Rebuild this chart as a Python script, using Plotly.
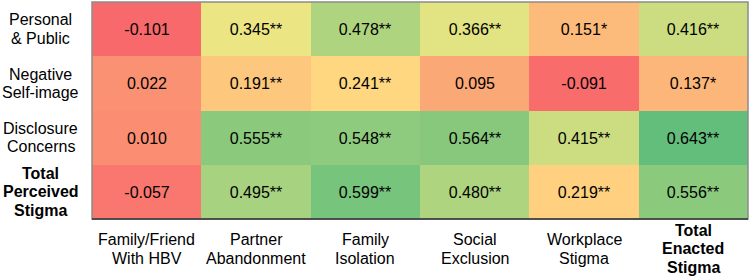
import plotly.graph_objects as go

# Data
col_labels = ["Family/Friend\nWith HBV", "Partner\nAbandonment", "Family\nIsolation",
              "Social\nExclusion", "Workplace\nStigma", "Total\nEnacted\nStigma"]
col_bold = [False, False, False, False, False, True]
row_labels = ["Personal\n& Public", "Negative\nSelf-image", "Disclosure\nConcerns",
              "Total\nPerceived\nStigma"]
row_bold = [False, False, False, True]

values_personal = [-0.101, 0.345, 0.478, 0.366, 0.151, 0.416]
values_negative = [0.022, 0.191, 0.241, 0.095, -0.091, 0.137]
values_disclosure = [0.010, 0.555, 0.548, 0.564, 0.415, 0.643]
values_total = [-0.057, 0.495, 0.599, 0.480, 0.219, 0.556]

sig_personal = ["", "**", "**", "**", "*", "**"]
sig_negative = ["", "**", "**", "", "", "*"]
sig_disclosure = ["", "**", "**", "**", "**", "**"]
sig_total = ["", "**", "**", "**", "**", "**"]

z = [values_personal, values_negative, values_disclosure, values_total]
sig = [sig_personal, sig_negative, sig_disclosure, sig_total]
text = [[f"{v:.3f}{s}" for v, s in zip(zr, sr)] for zr, sr in zip(z, sig)]

flat = [v for r in z for v in r]
zmin, zmax = min(flat), max(flat)
zmid = sum(flat) / len(flat)
midpos = (zmid - zmin) / (zmax - zmin)

FONT = "Liberation Sans, Arial, sans-serif"
LINE = 18.5

fig = go.Figure(go.Heatmap(
    z=z, x=list(range(len(col_labels))), y=list(range(len(row_labels))),
    text=text, texttemplate="%{text}",
    textfont=dict(family=FONT, size=16, color="#000000"),
    colorscale=[[0, "#F8696B"], [midpos, "#FFEB84"], [1, "#63BE7B"]],
    zmin=zmin, zmax=zmax, showscale=False, hoverinfo="skip", xgap=0, ygap=0,
))


def line_annots(label, bold, **pos):
    lines = label.split("\n")
    n = len(lines)
    out = []
    for k, ln in enumerate(lines):
        t = f"<b>{ln}</b>" if bold else ln
        out.append(dict(text=t, showarrow=False, xanchor="center", yanchor="middle",
                        align="center", yshift=((n - 1) / 2 - k) * LINE,
                        font=dict(family=FONT, size=16, color="#000000"), **pos))
    return out


annotations = []
for i, (lab, b) in enumerate(zip(col_labels, col_bold)):
    annotations += line_annots(lab, b, x=i, xref="x", y=-0.138, yref="paper")
for j, (lab, b) in enumerate(zip(row_labels, row_bold)):
    annotations += line_annots(lab, b, x=-0.078, xref="paper", y=j, yref="y")

fig.update_layout(
    width=750, height=279,
    margin=dict(l=92, r=2, t=2, b=60),
    paper_bgcolor="white", plot_bgcolor="white",
    annotations=annotations,
    xaxis=dict(showticklabels=False, showgrid=False, zeroline=False, ticks="",
               range=[-0.5, len(col_labels) - 0.5], showline=False),
    yaxis=dict(showticklabels=False, showgrid=False, zeroline=False, ticks="",
               range=[len(row_labels) - 0.5, -0.5], showline=False),
    shapes=[
        dict(type="rect", xref="paper", yref="paper", x0=0, x1=1, y0=0, y1=1,
             line=dict(color="#8c8c8c", width=1.5), layer="above"),
        dict(type="line", xref="paper", yref="paper", x0=0, x1=1, y0=0, y1=0,
             line=dict(color="#333333", width=1.5), layer="above"),
    ],
)

fig.write_html("out.html", config={"displayModeBar": False},
               post_script="document.body.style.margin='0';document.body.style.overflow='hidden';")
